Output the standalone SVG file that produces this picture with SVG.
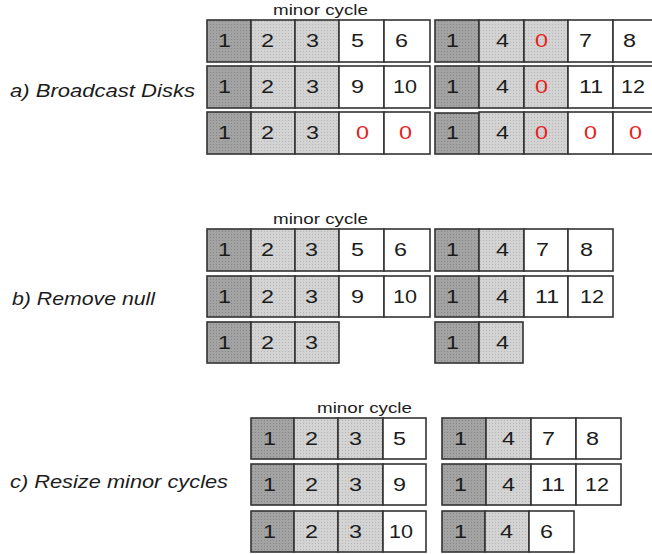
<svg xmlns="http://www.w3.org/2000/svg" width="652" height="554" viewBox="0 0 652 554">
<defs>
<pattern id="pd" width="3" height="3" patternUnits="userSpaceOnUse"><rect width="3" height="3" fill="#a3a3a3"/><rect width="1" height="1" fill="#878787"/></pattern>
<pattern id="pl" width="3" height="3" patternUnits="userSpaceOnUse"><rect width="3" height="3" fill="#d3d3d3"/><rect width="1" height="1" fill="#b6b6b6"/></pattern>
<style>
.d{fill:url(#pd);stroke:#333;stroke-width:1.6}
.l{fill:url(#pl);stroke:#333;stroke-width:1.6}
.w{fill:#fff;stroke:#333;stroke-width:1.6}
text{font-family:"Liberation Sans",Arial,sans-serif;fill:#1c1c1c}
.n{font-size:18px}
.z{font-size:18px;fill:#e8221c}
.lab{font-size:19px;font-style:italic}
.mc{font-size:15.5px}
</style>
</defs>
<rect width="652" height="554" fill="#fff"/>

<!-- Section a -->
<g id="label-a"><text class="lab" x="10" y="97" textLength="185" lengthAdjust="spacingAndGlyphs">a) Broadcast Disks</text></g>
<g id="minor-a"><text class="mc" x="273" y="15" textLength="95" lengthAdjust="spacingAndGlyphs">minor cycle</text></g>

<g id="a-left-1">
<rect class="d" x="207" y="20" width="44" height="42"/><rect class="l" x="251" y="20" width="44" height="42"/><rect class="l" x="295" y="20" width="44" height="42"/><rect class="w" x="339" y="20" width="45" height="42"/><rect class="w" x="384" y="20" width="46" height="42"/>
<text class="n" x="218" y="47" textLength="13" lengthAdjust="spacingAndGlyphs">1</text><text class="n" x="261" y="47" textLength="13" lengthAdjust="spacingAndGlyphs">2</text><text class="n" x="306" y="47" textLength="13" lengthAdjust="spacingAndGlyphs">3</text><text class="n" x="351" y="47" textLength="13" lengthAdjust="spacingAndGlyphs">5</text><text class="n" x="395" y="47" textLength="13" lengthAdjust="spacingAndGlyphs">6</text>
</g>
<g id="a-left-2">
<rect class="d" x="207" y="66" width="44" height="42"/><rect class="l" x="251" y="66" width="44" height="42"/><rect class="l" x="295" y="66" width="44" height="42"/><rect class="w" x="339" y="66" width="45" height="42"/><rect class="w" x="384" y="66" width="46" height="42"/>
<text class="n" x="218" y="93" textLength="13" lengthAdjust="spacingAndGlyphs">1</text><text class="n" x="261" y="93" textLength="13" lengthAdjust="spacingAndGlyphs">2</text><text class="n" x="306" y="93" textLength="13" lengthAdjust="spacingAndGlyphs">3</text><text class="n" x="351" y="93" textLength="13" lengthAdjust="spacingAndGlyphs">9</text><text class="n" x="393" y="93" textLength="24" lengthAdjust="spacingAndGlyphs">10</text>
</g>
<g id="a-left-3">
<rect class="d" x="207" y="112" width="44" height="42"/><rect class="l" x="251" y="112" width="44" height="42"/><rect class="l" x="295" y="112" width="44" height="42"/><rect class="w" x="339" y="112" width="45" height="42"/><rect class="w" x="384" y="112" width="46" height="42"/>
<text class="n" x="218" y="139" textLength="13" lengthAdjust="spacingAndGlyphs">1</text><text class="n" x="261" y="139" textLength="13" lengthAdjust="spacingAndGlyphs">2</text><text class="n" x="306" y="139" textLength="13" lengthAdjust="spacingAndGlyphs">3</text><text class="z" x="356" y="139" textLength="13" lengthAdjust="spacingAndGlyphs">0</text><text class="z" x="399" y="139" textLength="13" lengthAdjust="spacingAndGlyphs">0</text>
</g>

<g id="a-right-1">
<rect class="d" x="435" y="20" width="44" height="42"/><rect class="l" x="479" y="20" width="45" height="42"/><rect class="l" x="524" y="20" width="44" height="42"/><rect class="w" x="568" y="20" width="45" height="42"/><rect class="w" x="613" y="20" width="44" height="42"/>
<text class="n" x="446" y="47" textLength="13" lengthAdjust="spacingAndGlyphs">1</text><text class="n" x="496" y="47" textLength="13" lengthAdjust="spacingAndGlyphs">4</text><text class="z" x="535" y="47" textLength="13" lengthAdjust="spacingAndGlyphs">0</text><text class="n" x="579" y="47" textLength="13" lengthAdjust="spacingAndGlyphs">7</text><text class="n" x="623" y="47" textLength="13" lengthAdjust="spacingAndGlyphs">8</text>
</g>
<g id="a-right-2">
<rect class="d" x="435" y="66" width="44" height="42"/><rect class="l" x="479" y="66" width="45" height="42"/><rect class="l" x="524" y="66" width="44" height="42"/><rect class="w" x="568" y="66" width="45" height="42"/><rect class="w" x="613" y="66" width="44" height="42"/>
<text class="n" x="446" y="93" textLength="13" lengthAdjust="spacingAndGlyphs">1</text><text class="n" x="496" y="93" textLength="13" lengthAdjust="spacingAndGlyphs">4</text><text class="z" x="535" y="93" textLength="13" lengthAdjust="spacingAndGlyphs">0</text><text class="n" x="579" y="93" textLength="24" lengthAdjust="spacingAndGlyphs">11</text><text class="n" x="621" y="93" textLength="24" lengthAdjust="spacingAndGlyphs">12</text>
</g>
<g id="a-right-3">
<rect class="d" x="435" y="113" width="44" height="41"/><rect class="l" x="479" y="112" width="45" height="42"/><rect class="l" x="524" y="112" width="44" height="42"/><rect class="w" x="568" y="112" width="45" height="42"/><rect class="w" x="613" y="112" width="44" height="42"/>
<text class="n" x="446" y="139" textLength="13" lengthAdjust="spacingAndGlyphs">1</text><text class="n" x="496" y="139" textLength="13" lengthAdjust="spacingAndGlyphs">4</text><text class="z" x="535" y="139" textLength="13" lengthAdjust="spacingAndGlyphs">0</text><text class="z" x="584" y="139" textLength="13" lengthAdjust="spacingAndGlyphs">0</text><text class="z" x="629" y="139" textLength="13" lengthAdjust="spacingAndGlyphs">0</text>
</g>

<!-- Section b -->
<g id="label-b"><text class="lab" x="12" y="305" textLength="143" lengthAdjust="spacingAndGlyphs">b) Remove null</text></g>
<g id="minor-b"><text class="mc" x="273" y="224" textLength="95" lengthAdjust="spacingAndGlyphs">minor cycle</text></g>

<g id="b-left-1">
<rect class="d" x="207" y="229" width="44" height="42"/><rect class="l" x="251" y="229" width="44" height="42"/><rect class="l" x="295" y="229" width="44" height="42"/><rect class="w" x="339" y="229" width="45" height="42"/><rect class="w" x="384" y="229" width="46" height="42"/>
<text class="n" x="218" y="256" textLength="13" lengthAdjust="spacingAndGlyphs">1</text><text class="n" x="261" y="256" textLength="13" lengthAdjust="spacingAndGlyphs">2</text><text class="n" x="305" y="256" textLength="13" lengthAdjust="spacingAndGlyphs">3</text><text class="n" x="351" y="256" textLength="13" lengthAdjust="spacingAndGlyphs">5</text><text class="n" x="394" y="256" textLength="13" lengthAdjust="spacingAndGlyphs">6</text>
</g>
<g id="b-left-2">
<rect class="d" x="207" y="276" width="44" height="41"/><rect class="l" x="251" y="276" width="44" height="41"/><rect class="l" x="295" y="276" width="44" height="41"/><rect class="w" x="339" y="276" width="45" height="41"/><rect class="w" x="384" y="276" width="46" height="41"/>
<text class="n" x="218" y="303" textLength="13" lengthAdjust="spacingAndGlyphs">1</text><text class="n" x="261" y="303" textLength="13" lengthAdjust="spacingAndGlyphs">2</text><text class="n" x="305" y="303" textLength="13" lengthAdjust="spacingAndGlyphs">3</text><text class="n" x="351" y="303" textLength="13" lengthAdjust="spacingAndGlyphs">9</text><text class="n" x="393" y="303" textLength="24" lengthAdjust="spacingAndGlyphs">10</text>
</g>
<g id="b-left-3">
<rect class="d" x="207" y="322" width="44" height="41"/><rect class="l" x="251" y="322" width="44" height="41"/><rect class="l" x="295" y="322" width="44" height="41"/>
<text class="n" x="218" y="349" textLength="13" lengthAdjust="spacingAndGlyphs">1</text><text class="n" x="261" y="349" textLength="13" lengthAdjust="spacingAndGlyphs">2</text><text class="n" x="305" y="349" textLength="13" lengthAdjust="spacingAndGlyphs">3</text>
</g>

<g id="b-right-1">
<rect class="d" x="435" y="229" width="44" height="42"/><rect class="l" x="479" y="229" width="45" height="42"/><rect class="w" x="524" y="229" width="44" height="42"/><rect class="w" x="568" y="229" width="45" height="42"/>
<text class="n" x="446" y="256" textLength="13" lengthAdjust="spacingAndGlyphs">1</text><text class="n" x="496" y="256" textLength="13" lengthAdjust="spacingAndGlyphs">4</text><text class="n" x="536" y="256" textLength="13" lengthAdjust="spacingAndGlyphs">7</text><text class="n" x="580" y="256" textLength="13" lengthAdjust="spacingAndGlyphs">8</text>
</g>
<g id="b-right-2">
<rect class="d" x="435" y="276" width="44" height="41"/><rect class="l" x="479" y="276" width="45" height="41"/><rect class="w" x="524" y="276" width="44" height="41"/><rect class="w" x="568" y="276" width="45" height="41"/>
<text class="n" x="446" y="303" textLength="13" lengthAdjust="spacingAndGlyphs">1</text><text class="n" x="496" y="303" textLength="13" lengthAdjust="spacingAndGlyphs">4</text><text class="n" x="535" y="303" textLength="24" lengthAdjust="spacingAndGlyphs">11</text><text class="n" x="580" y="303" textLength="24" lengthAdjust="spacingAndGlyphs">12</text>
</g>
<g id="b-right-3">
<rect class="d" x="435" y="322" width="44" height="41"/><rect class="l" x="479" y="322" width="44" height="41"/>
<text class="n" x="446" y="349" textLength="13" lengthAdjust="spacingAndGlyphs">1</text><text class="n" x="496" y="349" textLength="13" lengthAdjust="spacingAndGlyphs">4</text>
</g>

<!-- Section c -->
<g id="label-c"><text class="lab" x="10" y="488" textLength="218" lengthAdjust="spacingAndGlyphs">c) Resize minor cycles</text></g>
<g id="minor-c"><text class="mc" x="317" y="413" textLength="95" lengthAdjust="spacingAndGlyphs">minor cycle</text></g>

<g id="c-left-1">
<rect class="d" x="251" y="418" width="43" height="41"/><rect class="l" x="294" y="418" width="44" height="41"/><rect class="l" x="338" y="418" width="45" height="41"/><rect class="w" x="383" y="418" width="43" height="41"/>
<text class="n" x="263" y="445" textLength="13" lengthAdjust="spacingAndGlyphs">1</text><text class="n" x="305" y="445" textLength="13" lengthAdjust="spacingAndGlyphs">2</text><text class="n" x="349" y="445" textLength="13" lengthAdjust="spacingAndGlyphs">3</text><text class="n" x="393" y="445" textLength="13" lengthAdjust="spacingAndGlyphs">5</text>
</g>
<g id="c-left-2">
<rect class="d" x="251" y="464" width="43" height="41"/><rect class="l" x="294" y="464" width="44" height="41"/><rect class="l" x="338" y="464" width="45" height="41"/><rect class="w" x="383" y="464" width="43" height="41"/>
<text class="n" x="263" y="491" textLength="13" lengthAdjust="spacingAndGlyphs">1</text><text class="n" x="305" y="491" textLength="13" lengthAdjust="spacingAndGlyphs">2</text><text class="n" x="349" y="491" textLength="13" lengthAdjust="spacingAndGlyphs">3</text><text class="n" x="393" y="491" textLength="13" lengthAdjust="spacingAndGlyphs">9</text>
</g>
<g id="c-left-3">
<rect class="d" x="251" y="511" width="43" height="41"/><rect class="l" x="294" y="511" width="44" height="41"/><rect class="l" x="338" y="511" width="45" height="41"/><rect class="w" x="383" y="511" width="43" height="41"/>
<text class="n" x="263" y="538" textLength="13" lengthAdjust="spacingAndGlyphs">1</text><text class="n" x="305" y="538" textLength="13" lengthAdjust="spacingAndGlyphs">2</text><text class="n" x="349" y="538" textLength="13" lengthAdjust="spacingAndGlyphs">3</text><text class="n" x="389" y="538" textLength="24" lengthAdjust="spacingAndGlyphs">10</text>
</g>

<g id="c-right-1">
<rect class="d" x="442" y="418" width="44" height="41"/><rect class="l" x="486" y="418" width="45" height="41"/><rect class="w" x="531" y="418" width="45" height="41"/><rect class="w" x="576" y="418" width="45" height="41"/>
<text class="n" x="454" y="445" textLength="13" lengthAdjust="spacingAndGlyphs">1</text><text class="n" x="502" y="445" textLength="13" lengthAdjust="spacingAndGlyphs">4</text><text class="n" x="542" y="445" textLength="13" lengthAdjust="spacingAndGlyphs">7</text><text class="n" x="586" y="445" textLength="13" lengthAdjust="spacingAndGlyphs">8</text>
</g>
<g id="c-right-2">
<rect class="d" x="442" y="464" width="44" height="41"/><rect class="l" x="486" y="464" width="45" height="41"/><rect class="w" x="531" y="464" width="45" height="41"/><rect class="w" x="576" y="464" width="45" height="41"/>
<text class="n" x="454" y="491" textLength="13" lengthAdjust="spacingAndGlyphs">1</text><text class="n" x="502" y="491" textLength="13" lengthAdjust="spacingAndGlyphs">4</text><text class="n" x="541" y="491" textLength="24" lengthAdjust="spacingAndGlyphs">11</text><text class="n" x="585" y="491" textLength="24" lengthAdjust="spacingAndGlyphs">12</text>
</g>
<g id="c-right-3">
<rect class="d" x="442" y="511" width="43" height="41"/><rect class="l" x="485" y="511" width="44" height="41"/><rect class="w" x="529" y="511" width="45" height="41"/>
<text class="n" x="454" y="538" textLength="13" lengthAdjust="spacingAndGlyphs">1</text><text class="n" x="500" y="538" textLength="13" lengthAdjust="spacingAndGlyphs">4</text><text class="n" x="540" y="538" textLength="13" lengthAdjust="spacingAndGlyphs">6</text>
</g>

<g id="connectors"/>
</svg>
